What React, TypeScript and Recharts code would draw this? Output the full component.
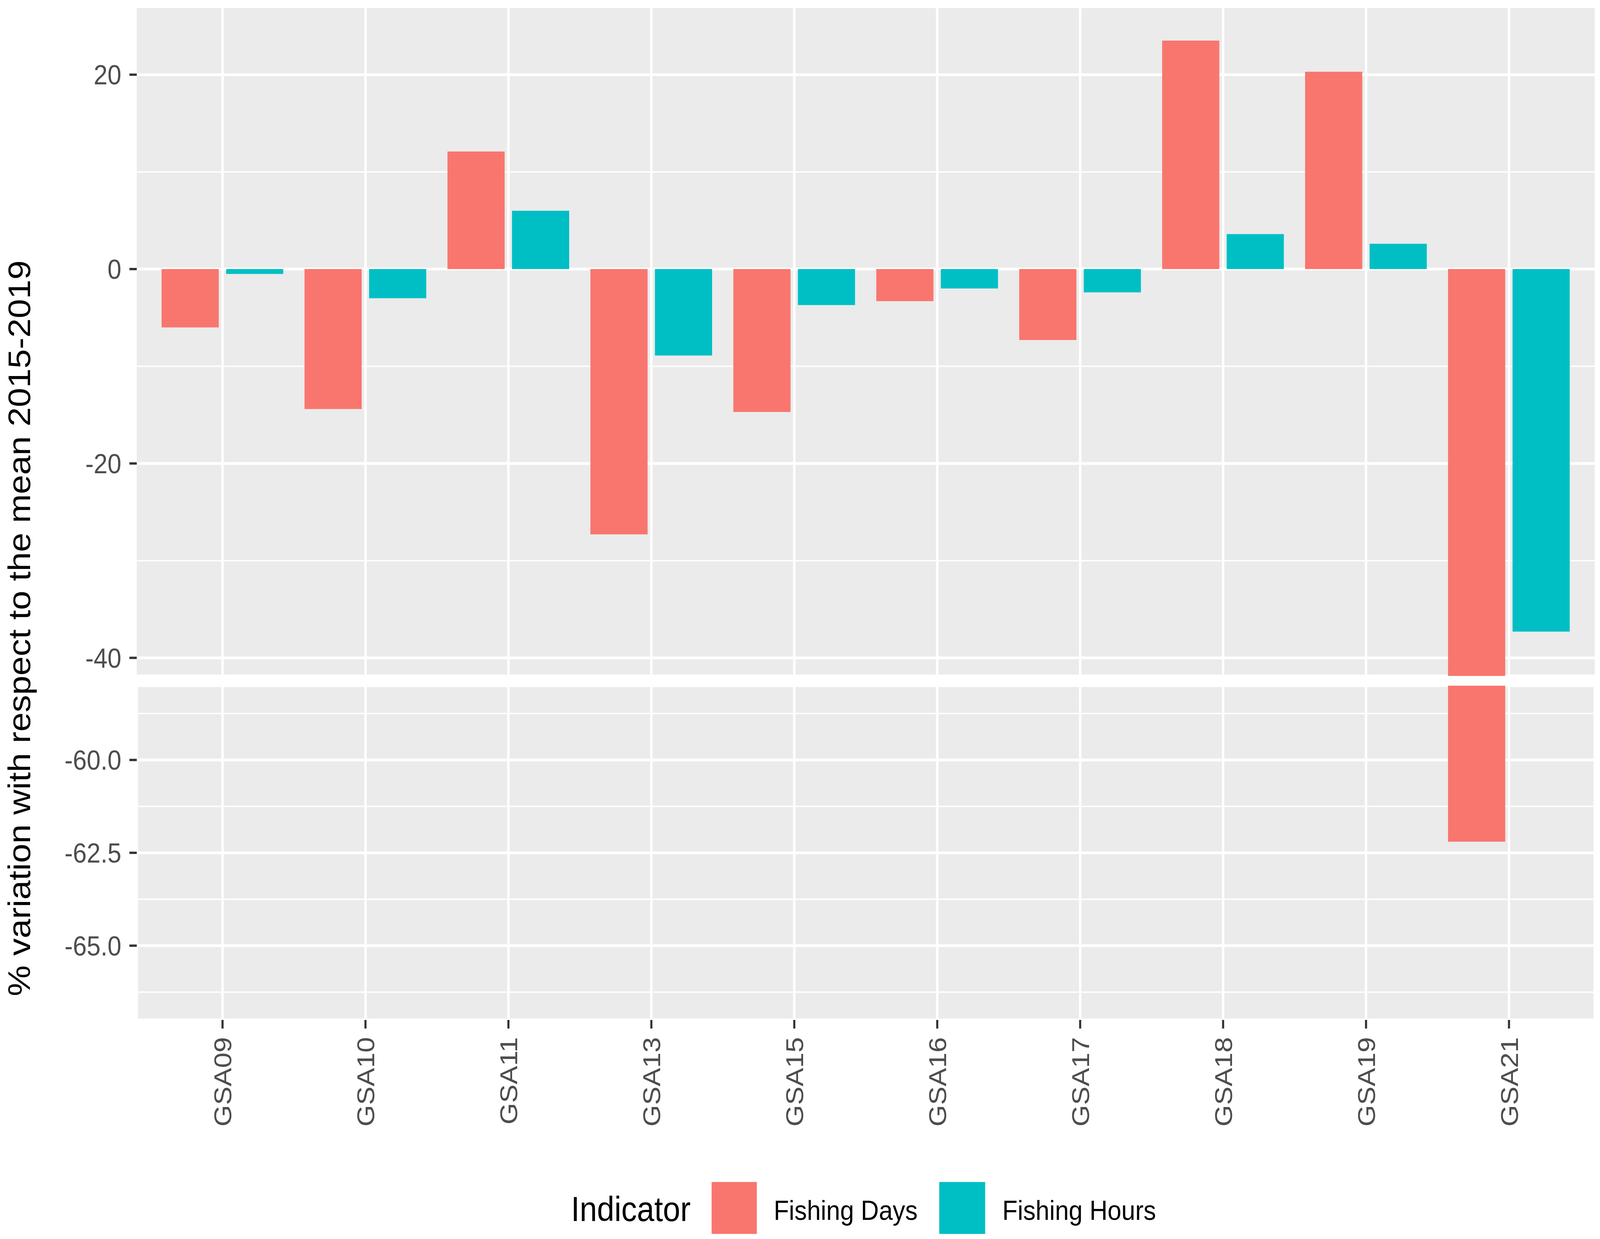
import React, { useLayoutEffect, useState } from "react";
import { BarChart, Bar, XAxis, YAxis, CartesianGrid, ReferenceLine } from "recharts";

const categories = ["GSA09", "GSA10", "GSA11", "GSA13", "GSA15", "GSA16", "GSA17", "GSA18", "GSA19", "GSA21"];
const fishingDays = [-6.0, -14.4, 12.1, -27.3, -14.7, -3.3, -7.3, 23.5, 20.3, -62.2];
const fishingHours = [-0.5, -3.0, 6.0, -8.9, -3.7, -2.0, -2.4, 3.6, 2.6, -37.3];

const upperTicks = [-40, -20, 0, 20];
const upperMinor = [-30, -10, 10];
const lowerTicks = [-65, -62.5, -60];
const lowerMinor = [-66.25, -63.75, -61.25, -58.75];

const upperDomain = [-41.86, 27];
const lowerDomain = [-67, -58];

const seriesNames = ["Fishing Days", "Fishing Hours"];
const seriesColors = ["#F8766D", "#00BFC4"];
const legendTitle = "Indicator";
const yTitle = "% variation with respect to the mean 2015-2019";

const data = categories.map((c, i) => ({ gsa: c, days: fishingDays[i], hours: fishingHours[i] }));

const FONT = "'Liberation Sans', Arial, sans-serif";
const W = 4562;
const H = 3173;

const tickStyle = { fill: "#4D4D4D", fontSize: 71, fontFamily: FONT };

const XTick = (props: any) => {
  const { x, y, payload } = props;
  return (
    <text
      x={0}
      y={0}
      transform={`translate(${x},${y}) rotate(-90)`}
      textAnchor="end"
      dy="0.355em"
      fill="#4D4D4D"
      fontSize={71}
      fontFamily={FONT}
    >
      {payload.value}
    </text>
  );
};

export default function App() {
  const [sx, setSx] = useState(1);
  useLayoutEffect(() => {
    const vw = document.documentElement.clientWidth || window.innerWidth || W;
    setSx(Math.min(1, vw / W));
  }, []);
  return (
    <div
      style={{
        position: "absolute",
        left: 0,
        top: 0,
        width: W,
        height: H,
        background: "#FFFFFF",
        overflow: "hidden",
        transform: `scaleX(${sx})`,
        transformOrigin: "0 0",
      }}
    >
      <div style={{ position: "absolute", left: 0, top: 0 }}>
        <BarChart
          width={W}
          height={1731}
          data={data}
          margin={{ top: 17, right: 15, bottom: 0, left: 0 }}
          barGap={21}
          barSize={163}
        >
          <CartesianGrid fill="#EBEBEB" stroke="#FFFFFF" strokeWidth={7} vertical={false} />
          <CartesianGrid horizontalValues={upperMinor} vertical={false} stroke="#FFFFFF" strokeWidth={3.5} />
          <XAxis
            dataKey="gsa"
            type="category"
            height={0}
            tick={false}
            tickLine={false}
            axisLine={false}
            padding={{ left: 40.75, right: 40.75 }}
          />
          <YAxis
            type="number"
            domain={upperDomain}
            allowDataOverflow
            ticks={upperTicks}
            width={390}
            tickSize={21}
            tickMargin={23}
            axisLine={false}
            tickLine={{ stroke: "#333333", strokeWidth: 6 }}
            tick={tickStyle}
            interval={0}
          />
          {categories.map((c) => (
            <ReferenceLine key={c} x={c} stroke="#FFFFFF" strokeWidth={7} />
          ))}
          <Bar dataKey="days" name={seriesNames[0]} fill={seriesColors[0]} isAnimationActive={false} />
          <Bar dataKey="hours" name={seriesNames[1]} fill={seriesColors[1]} isAnimationActive={false} />
        </BarChart>
      </div>
      <div style={{ position: "absolute", left: 0, top: 1756 }}>
        <BarChart
          width={W}
          height={1417}
          data={data}
          margin={{ top: 0, right: 15, bottom: 0, left: 0 }}
          barGap={21}
          barSize={163}
        >
          <CartesianGrid fill="#EBEBEB" stroke="#FFFFFF" strokeWidth={7} />
          <CartesianGrid horizontalValues={lowerMinor} vertical={false} stroke="#FFFFFF" strokeWidth={3.5} />
          <XAxis
            dataKey="gsa"
            type="category"
            height={561}
            tick={<XTick />}
            tickSize={22}
            tickMargin={22}
            tickLine={{ stroke: "#333333", strokeWidth: 6 }}
            axisLine={false}
            interval={0}
            padding={{ left: 40.75, right: 40.75 }}
          />
          <YAxis
            type="number"
            domain={lowerDomain}
            allowDataOverflow
            ticks={lowerTicks}
            width={390}
            tickSize={21}
            tickMargin={23}
            axisLine={false}
            tickLine={{ stroke: "#333333", strokeWidth: 6 }}
            tick={tickStyle}
            tickFormatter={(v: number) => v.toFixed(1)}
            interval={0}
          />
          <Bar dataKey="days" name={seriesNames[0]} fill={seriesColors[0]} isAnimationActive={false} />
          <Bar dataKey="hours" name={seriesNames[1]} fill={seriesColors[1]} isAnimationActive={false} />
        </BarChart>
      </div>
      <svg width={W} height={H} style={{ position: "absolute", left: 0, top: 0, pointerEvents: "none" }}>
        <text
          transform="translate(86,1609) rotate(-90)"
          textAnchor="middle"
          fontSize={89}
          fontFamily={FONT}
          fill="#000000"
        >
          {yTitle}
        </text>
        <text x={1628} y={3127} fontSize={89} fontFamily={FONT} fill="#000000">
          {legendTitle}
        </text>
        <rect x={2029} y={3027} width={129} height={133} fill={seriesColors[0]} />
        <text x={2206} y={3124} fontSize={71} fontFamily={FONT} fill="#000000">
          {seriesNames[0]}
        </text>
        <rect x={2678} y={3027} width={131} height={133} fill={seriesColors[1]} />
        <text x={2858} y={3124} fontSize={71} fontFamily={FONT} fill="#000000">
          {seriesNames[1]}
        </text>
      </svg>
    </div>
  );
}
